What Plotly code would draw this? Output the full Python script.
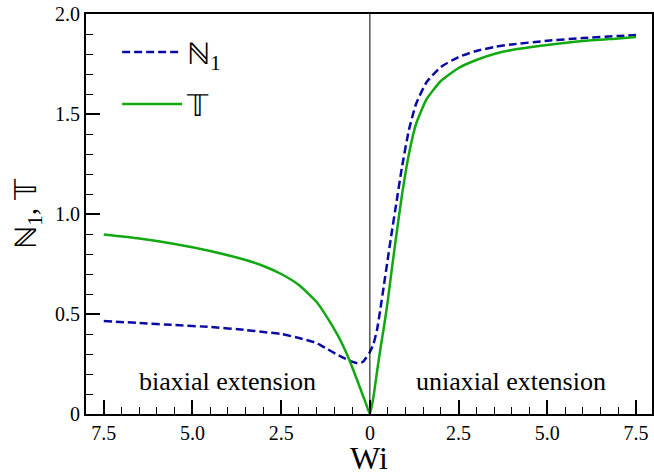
import plotly.graph_objects as go

# Data
wi = [-7.5, -6.5, -5.5, -4.5, -3.5, -3.0, -2.5, -2.0, -1.5, -1.2, -0.9, -0.7, -0.5, -0.35, -0.2, -0.1, 0.0,
      0.1, 0.2, 0.3, 0.4, 0.5, 0.6, 0.75, 0.9, 1.1, 1.3, 1.6, 2.0, 2.5, 3.0, 3.5, 4.0, 5.0, 6.0, 7.0, 7.5]
n1 = [0.465, 0.455, 0.445, 0.435, 0.42, 0.41, 0.40, 0.38, 0.355, 0.325, 0.295, 0.277, 0.262, 0.254, 0.26, 0.283, 0.31,
      0.35, 0.42, 0.53, 0.65, 0.77, 0.89, 1.06, 1.23, 1.42, 1.55, 1.66, 1.735, 1.785, 1.815, 1.835, 1.848, 1.866, 1.88, 1.89, 1.895]
t = [0.897, 0.877, 0.85, 0.815, 0.77, 0.74, 0.70, 0.645, 0.56, 0.482, 0.392, 0.32, 0.235, 0.165, 0.094, 0.047, 0.0,
     0.085, 0.21, 0.33, 0.44, 0.56, 0.70, 0.90, 1.09, 1.30, 1.45, 1.575, 1.665, 1.73, 1.77, 1.80, 1.82, 1.845, 1.865, 1.878, 1.885]

x_tickvals = [-7.5, -5.0, -2.5, 0.0, 2.5, 5.0, 7.5]
x_ticktext = ["7.5", "5.0", "2.5", "0", "2.5", "5.0", "7.5"]
y_tickvals = [0, 0.5, 1.0, 1.5, 2.0]
y_ticktext = ["0", "0.5", "1.0", "1.5", "2.0"]

region_labels = ["biaxial extension", "uniaxial extension"]
region_x = [-4.02, 3.99]
region_y = [0.165, 0.165]

FONT = "Liberation Serif"

fig = go.Figure()
fig.add_trace(go.Scatter(x=wi, y=n1, mode="lines", name="ℕ<sub>1</sub>", legendgroup="a",
                         line=dict(color="#0a0aa5", width=2.5, dash="8px,4px", shape="spline", smoothing=0.5)))
fig.add_trace(go.Scatter(x=wi, y=t, mode="lines", name="𝕋", legendgroup="b",
                         line=dict(color="#12a812", width=2.5, shape="spline", smoothing=0.5)))

fig.add_vline(x=0, line=dict(color="black", width=1))

for txt, xx, yy in zip(region_labels, region_x, region_y):
    fig.add_annotation(x=xx, y=yy, text=txt, showarrow=False,
                       font=dict(family=FONT, size=26, color="black"))

axis_common = dict(showline=True, linecolor="black", linewidth=2, mirror=True,
                   ticks="inside", ticklen=14, tickwidth=1.5, tickcolor="black",
                   showgrid=False, zeroline=False, ticklabeloverflow="allow",
                   tickfont=dict(family=FONT, size=20, color="black"))

fig.update_xaxes(range=[-8, 7.95], tickvals=x_tickvals, ticktext=x_ticktext,
                 minor=dict(dtick=0.5, tick0=0, ticks="inside", ticklen=7, tickwidth=1.2, tickcolor="black"),
                 title=dict(text="Wi", font=dict(family=FONT, size=32, color="black"), standoff=4),
                 **axis_common)
fig.update_yaxes(range=[0, 2.0], tickvals=y_tickvals, ticktext=y_ticktext,
                 minor=dict(dtick=0.1, tick0=0, ticks="inside", ticklen=7, tickwidth=1.2, tickcolor="black"),
                 title=dict(text="ℕ<sub>1</sub>, 𝕋", font=dict(family=FONT, size=30, color="black"), standoff=10),
                 **axis_common)

fig.update_layout(
    width=654, height=476,
    margin=dict(l=86, r=0, t=14, b=62),
    plot_bgcolor="white", paper_bgcolor="white",
    showlegend=True,
    legend=dict(x=0.055, y=0.97, xanchor="left", yanchor="top", bgcolor="rgba(0,0,0,0)",
                font=dict(family=FONT, size=30, color="black"),
                traceorder="grouped", tracegroupgap=10, itemwidth=60),
)

fig.write_html("out.html", config={"displayModeBar": False},
               post_script="document.body.style.margin='0';document.body.style.overflow='hidden';")
